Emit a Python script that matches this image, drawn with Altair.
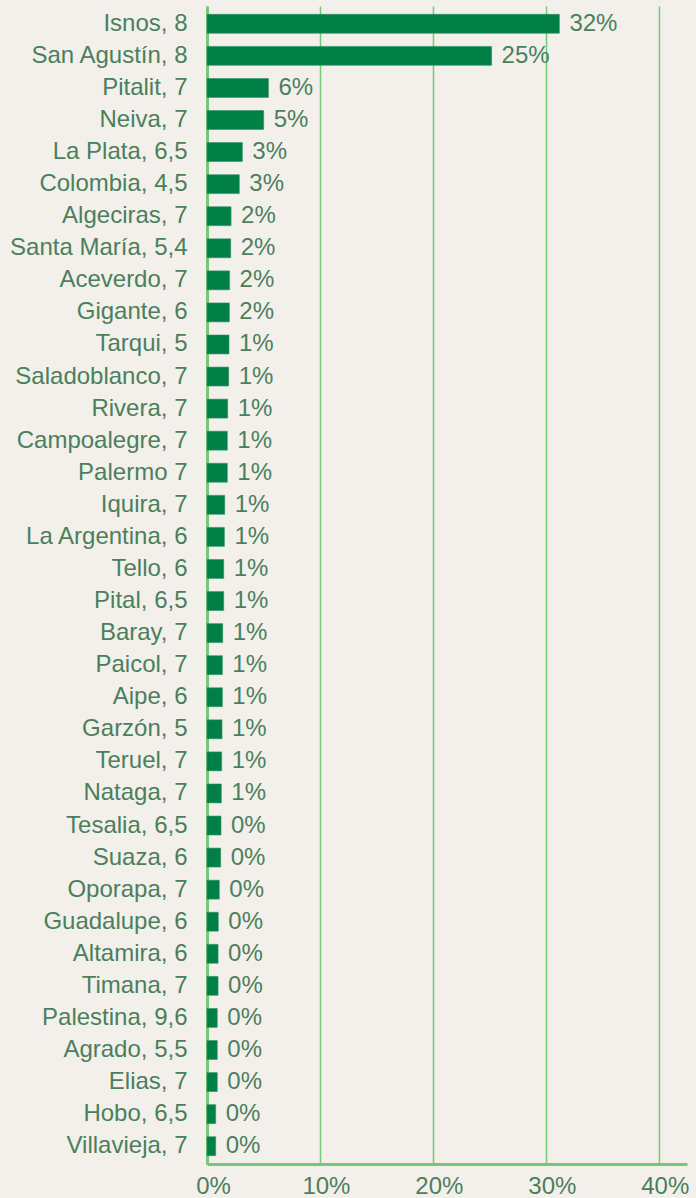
import altair as alt
import pandas as pd

names = ["Isnos, 8", "San Agustín, 8", "Pitalit, 7", "Neiva, 7", "La Plata, 6,5",
         "Colombia, 4,5", "Algeciras, 7", "Santa María, 5,4", "Aceverdo, 7", "Gigante, 6",
         "Tarqui, 5", "Saladoblanco, 7", "Rivera, 7", "Campoalegre, 7", "Palermo 7",
         "Iquira, 7", "La Argentina, 6", "Tello, 6", "Pital, 6,5", "Baray, 7",
         "Paicol, 7", "Aipe, 6", "Garzón, 5", "Teruel, 7", "Nataga, 7",
         "Tesalia, 6,5", "Suaza, 6", "Oporapa, 7", "Guadalupe, 6", "Altamira, 6",
         "Timana, 7", "Palestina, 9,6", "Agrado, 5,5", "Elias, 7", "Hobo, 6,5",
         "Villavieja, 7"]
values = [31.2, 25.2, 5.44, 5.02, 3.13, 2.86, 2.13, 2.1, 2.0, 1.98,
          1.95, 1.92, 1.83, 1.8, 1.8, 1.57, 1.54, 1.48, 1.48, 1.39,
          1.36, 1.36, 1.33, 1.3, 1.27, 1.24, 1.21, 1.09, 1.0, 0.98,
          0.98, 0.91, 0.91, 0.91, 0.77, 0.77]
labels = ["32%", "25%", "6%", "5%", "3%", "3%", "2%", "2%", "2%", "2%"] + ["1%"] * 15 + ["0%"] * 11
tick_values = [0, 10, 20, 30, 40]

df = pd.DataFrame({"name": names, "value": values, "label": labels})

BG = "#f3f0eb"
BAR = "#007f46"
TXT = "#4b7f5c"
LINE = "#74c877"
FONT = "Liberation Sans"
FS = 24

y = alt.Y("name:N", sort=None, title=None,
          scale=alt.Scale(paddingInner=0.41, paddingOuter=0.26),
          axis=alt.Axis(labelFontSize=FS, labelColor=TXT, labelFont=FONT,
                        labelPadding=20, ticks=False, domain=True,
                        domainColor=LINE, domainWidth=3, grid=False,
                        labelLimit=300))
x = alt.X("value:Q", title=None,
          scale=alt.Scale(domain=[0, 42.5], nice=False, zero=True),
          axis=alt.Axis(values=tick_values, labelExpr="datum.value + '%'",
                        labelFontSize=FS, labelColor=TXT, labelFont=FONT,
                        labelPadding=10, labelOffset=6, ticks=False,
                        domainColor=LINE, domainWidth=3,
                        grid=True, gridColor=LINE, gridWidth=1.5,
                        labelFlush=False))

bars = alt.Chart(df).mark_bar(color=BAR, stroke="#2f9463", strokeWidth=0.6).encode(x=x, y=y)
text = alt.Chart(df).mark_text(align="left", baseline="middle", dx=10,
                               fontSize=FS, font=FONT, color=TXT).encode(
    x=alt.X("value:Q"), y=alt.Y("name:N", sort=None), text="label:N")

chart = (bars + text).properties(
    width=480, height=1158,
    background=BG,
    padding={"left": 207, "top": 6, "right": 9, "bottom": 34},
    autosize=alt.AutoSizeParams(type="none"),
).configure_view(stroke=None)

chart.save("out.html", embed_options={"renderer": "svg", "actions": False})
